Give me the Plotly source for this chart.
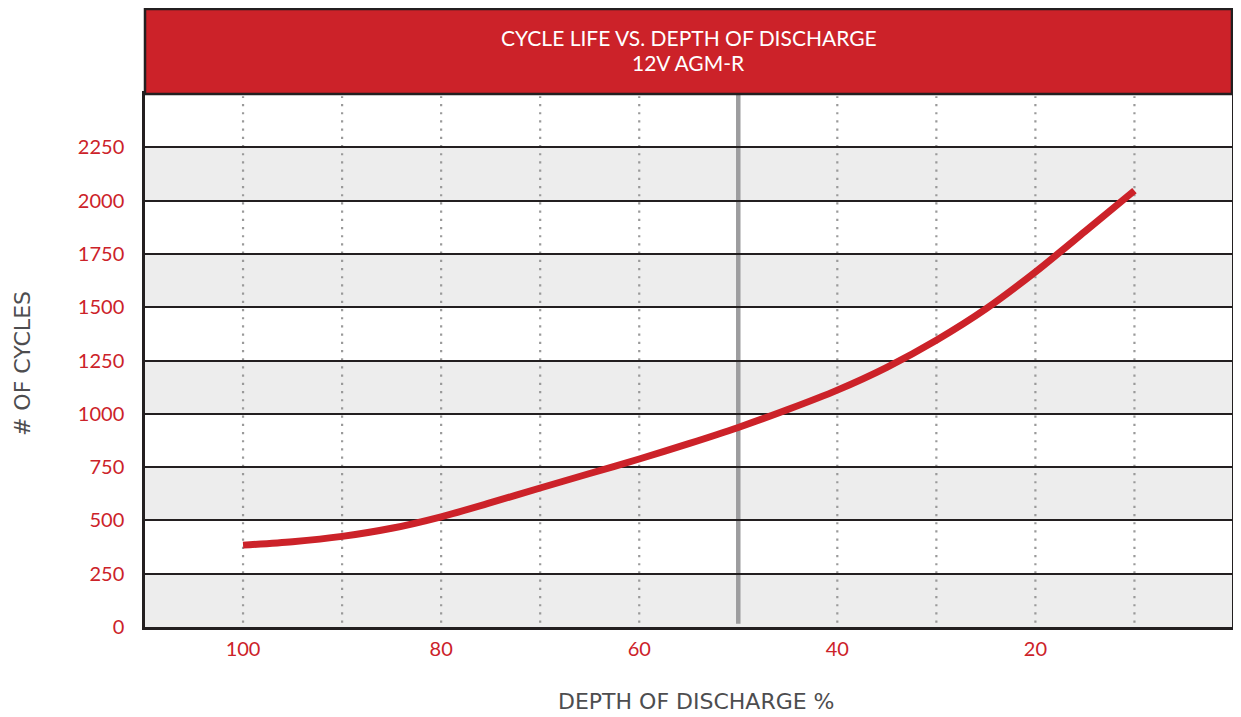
import plotly.graph_objects as go

# Data
dod = [100, 95, 90, 85, 80, 75, 70, 65, 60, 55, 50, 45, 40, 35, 30, 25, 20, 15, 10]
cycles = [384, 400, 425, 463, 517, 583, 652, 720, 788, 860, 936, 1020, 1111, 1218, 1345, 1492, 1665, 1855, 2047]

y_tick_vals = [0, 250, 500, 750, 1000, 1250, 1500, 1750, 2000, 2250]
x_tick_vals = [100, 80, 60, 40, 20]
band_starts = [0, 500, 1000, 1500, 2000]
dotted_x = [100, 90, 80, 70, 60, 40, 30, 20, 10]
marker_x = 50

title_line1 = "CYCLE LIFE VS. DEPTH OF DISCHARGE"
title_line2 = "12V AGM-R"
x_title = "DEPTH OF DISCHARGE %"
y_title = "# OF CYCLES"

RED = "#CC2229"
DARK = "#231F20"
FONT = "Lato"
TITLE_FONT = "DejaVu Sans"

fig = go.Figure()

fig.add_trace(go.Scatter(
    x=dod, y=cycles, mode="lines",
    line=dict(color=RED, width=7, shape="spline", smoothing=0.8),
    hoverinfo="skip", showlegend=False,
))

shapes = []
for b in band_starts:
    shapes.append(dict(type="rect", xref="paper", yref="y", x0=0, x1=1, y0=b, y1=b + 250,
                       fillcolor="#EDEDED", line=dict(width=0), layer="below"))
for xv in dotted_x:
    shapes.append(dict(type="line", xref="x", yref="y", x0=xv, x1=xv, y0=20, y1=2490,
                       line=dict(color="#9A9A9A", width=2.2, dash="2.2px,6px"), layer="below"))
shapes.append(dict(type="line", xref="x", yref="y", x0=marker_x, x1=marker_x, y0=15, y1=2500,
                   line=dict(color="#9D9D9F", width=4.5), layer="below"))
# header band
shapes.append(dict(type="rect", xref="paper", yref="paper", x0=0, x1=1, y0=1, y1=1 + 85 / 533,
                   fillcolor=RED, line=dict(color=DARK, width=2.5)))

fig.update_layout(
    width=1225, height=708,
    margin=dict(l=137, r=1, t=86, b=89),
    paper_bgcolor="white", plot_bgcolor="white",
    shapes=shapes,
    showlegend=False,
    xaxis=dict(
        range=[109.9, 0.15], tickvals=x_tick_vals, ticktext=[str(v) for v in x_tick_vals],
        showgrid=False, zeroline=False, ticks="", automargin=False,
        showline=True, linecolor=DARK, linewidth=2.5, mirror=True,
        tickfont=dict(family=FONT, size=20, color=RED),
        ticklabelstandoff=2,
    ),
    yaxis=dict(
        range=[0, 2500], tickvals=y_tick_vals, ticktext=[str(v) for v in y_tick_vals],
        showgrid=True, gridcolor=DARK, gridwidth=2, zeroline=False, ticks="", automargin=False,
        showline=True, linecolor=DARK, linewidth=2.5, mirror=True,
        tickfont=dict(family=FONT, size=20, color=RED),
        ticklabelstandoff=14,
    ),
    annotations=[
        dict(xref="paper", yref="paper", x=0.5, y=1 + 57 / 533, text=title_line1, showarrow=False,
             font=dict(family=FONT, size=21, color="white"), xanchor="center", yanchor="middle"),
        dict(xref="paper", yref="paper", x=0.5, y=1 + 31 / 533, text=title_line2, showarrow=False,
             font=dict(family=FONT, size=21, color="white"), xanchor="center", yanchor="middle"),
        dict(xref="paper", yref="paper", x=0.507, y=-0.1405, text=x_title, showarrow=False,
             font=dict(family=TITLE_FONT, size=22, color="#4D4D4F"), xanchor="center", yanchor="middle"),
        dict(xref="paper", yref="paper", x=-0.1126, y=0.4944, text=y_title, showarrow=False, textangle=-90,
             font=dict(family=TITLE_FONT, size=22, color="#4D4D4F"), xanchor="center", yanchor="middle"),
    ],
)

fig.write_html("out.html")
